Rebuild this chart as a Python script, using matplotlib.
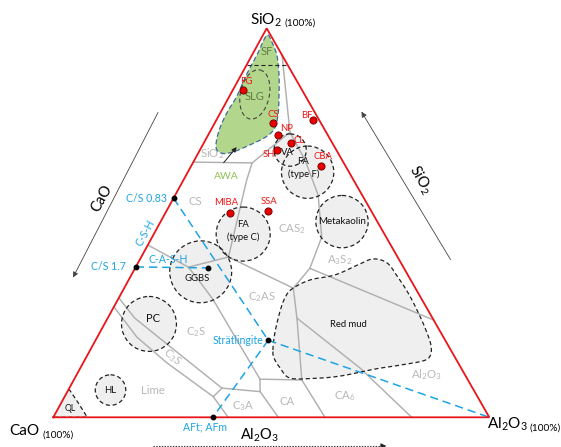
import numpy as np
import matplotlib
matplotlib.use("Agg")
import matplotlib.pyplot as plt
from matplotlib.patches import Polygon, Circle, Ellipse, FancyArrowPatch

plt.rcParams['font.family'] = ['Lato', 'DejaVu Sans']
plt.rcParams['mathtext.fontset'] = 'custom'
plt.rcParams['mathtext.rm'] = 'Lato'
plt.rcParams['mathtext.it'] = 'Lato:italic'
plt.rcParams['mathtext.bf'] = 'Lato:bold'
plt.rcParams['lines.scale_dashes'] = False

# ---------------------------------------------------------------------------
# Compositions in wt%, written as (SiO2, Al2O3); CaO is the balance.
# ---------------------------------------------------------------------------
phase_boundaries = [
    [(93.1, 6.9), (73.3, 18.4)],
    [(73.3, 18.4), (65.4, 13.6)],
    [(65.4, 13.6), (65.6, 0.0)],
    [(65.4, 13.6), (61.0, 14.5), (41.2, 20.0)],
    [(41.2, 20.0), (38.6, 12.1)],
    [(38.6, 12.1), (44.3, 0.0)],
    [(38.6, 12.1), (34.8, 16.6), (30.2, 21.9), (9.8, 42.6)],
    [(41.2, 20.0), (33.2, 38.8)],
    [(33.2, 38.8), (25.5, 43.4), (9.6, 52.3)],
    [(33.2, 38.8), (38.3, 40.1)],
    [(38.3, 40.1), (25.0, 75.0)],
    [(38.3, 40.1), (46.3, 38.9), (57.1, 32.8), (66.1, 25.4), (73.3, 18.4)],
    [(25.5, 43.4), (12.7, 64.1), (0.0, 82.2)],
    [(9.8, 42.6), (9.6, 52.3)],
    [(9.6, 52.3), (0.0, 62.3)],
    [(9.8, 42.6), (6.6, 44.2)],
    [(6.6, 44.2), (0.0, 51.6)],
    [(6.6, 44.2), (7.5, 35.0)],
    [(7.5, 35.0), (5.3, 34.1)],
    [(5.3, 34.1), (0.0, 40.1)],
    [(30.7, 0.0), (25.5, 6.2), (18.8, 16.9), (7.5, 35.0)],
    [(28.4, 0.0), (20.6, 9.1), (14.0, 19.2), (5.3, 34.1)],
]

field_names = ["SiO$_2$", "CS", "CAS$_2$", "A$_3$S$_2$", "C$_2$AS", "C$_2$S",
               "C$_3$S", "Lime", "C$_3$A", "CA", "CA$_6$", "Al$_2$O$_3$"]
field_label_comp = [(67.9, 3.1), (55.4, 5.4), (48.3, 31.0), (40.4, 46.0),
                    (31.0, 32.6), (22.0, 22.1), (15.5, 19.6), (6.8, 19.6),
                    (2.9, 42.2), (4.0, 51.6), (5.5, 64.2), (10.9, 80.2)]

material_names = ["VA", "FA\n(type F)", "Metakaolin", "FA\n(type C)", "GGBS", "PC", "HL"]
material_centres = [(68.7, 20.7), (63.0, 27.5), (50.3, 41.6), (47.1, 20.5),
                    (37.4, 15.5), (24.0, 10.2), (7.0, 9.7)]
material_radii = [3.7, 6.0, 6.0, 6.2, 7.1, 6.3, 3.5]
material_label_comp = [(68.2, 20.2), (64.1, 26.0), (50.3, 41.6), (47.9, 20.1),
                       (35.8, 15.4), (25.5, 10.3), (7.0, 9.7)]

sample_names = ["FG", "CS", "NP", "CL", "SH", "BF", "CBA", "MIBA", "SSA"]
sample_comp = [(84.1, 2.3), (75.7, 13.4), (72.6, 16.1), (70.5, 20.1), (68.7, 17.6),
               (76.4, 22.1), (64.7, 29.7), (52.6, 14.8), (53.0, 23.2)]

awa_outline = [(98.3, 1.1), (96.5, 2.9), (93.1, 5.7), (88.0, 8.7), (82.9, 11.2),
               (78.2, 13.3), (74.4, 14.4), (72.1, 13.5), (70.0, 10.8), (68.2, 7.8),
               (67.9, 5.4), (69.5, 3.3), (73.9, 1.9), (78.5, 1.5), (82.4, 1.7),
               (88.0, 1.2), (93.6, 1.1), (97.0, 0.8)]
red_mud_outline = [(17.3, 41.9), (21.7, 40.2), (27.1, 38.7), (30.7, 38.1), (33.0, 38.6),
                   (35.3, 41.6), (36.6, 46.7), (39.2, 50.7), (40.7, 53.4), (39.7, 57.1),
                   (36.3, 61.1), (32.0, 65.7), (27.6, 69.9), (23.0, 74.0), (18.6, 77.5),
                   (15.8, 78.7), (14.5, 77.7), (13.4, 72.9), (12.4, 67.7), (10.6, 60.6),
                   (10.0, 54.7), (10.1, 49.3), (12.7, 45.8), (15.2, 43.2)]
slg_centre = (83.0, 5.6)
sf_cut_sio2 = 90.6
ql_outline = [(7.3, 0.0), (3.9, 3.7), (0.0, 7.8)]

awa_label_comp = (62.0, 9.4)
awa_arrow_comp = [(64.9, 6.9), (70.0, 8.2)]
sf_label_comp = (94.0, 2.9)
slg_label_comp = (82.4, 5.9)
red_mud_label_comp = (23.8, 56.0)
ql_label_comp = (2.3, 2.7)

cs_ratios = [0.83, 1.7]          # molar Ca/Si of C-S-H
cash_comp = (38.4, 16.8)
stratlingite_comp = (19.8, 39.6)
aft_afm_comp = (0.0, 36.6)
casH_label_comp = (40.6, 6.5)

M_CAO, M_SIO2 = 56.08, 60.08

# ---------------------------------------------------------------------------
# Ternary frame (pixel layout of the three corners)
# ---------------------------------------------------------------------------
V_CAO = np.array([53.3, 417.3])
V_SIO2 = np.array([266.7, 28.3])
V_AL = np.array([489.3, 417.3])
PX_PER_PCT = (V_AL[0] - V_CAO[0]) / 100.0


def to_xy(s, a):
    s = np.asarray(s, dtype=float) / 100.0
    a = np.asarray(a, dtype=float) / 100.0
    c = 1.0 - s - a
    x = c * V_CAO[0] + s * V_SIO2[0] + a * V_AL[0]
    y = c * V_CAO[1] + s * V_SIO2[1] + a * V_AL[1]
    return x, y


def pts_xy(pts):
    arr = np.asarray(pts, dtype=float)
    x, y = to_xy(arr[:, 0], arr[:, 1])
    return np.column_stack([x, y])


def smooth_closed(xy, n=12):
    P = np.asarray(xy)
    m = len(P)
    out = []
    for i in range(m):
        p0, p1, p2, p3 = P[i - 1], P[i], P[(i + 1) % m], P[(i + 2) % m]
        for t in np.linspace(0, 1, n, endpoint=False):
            t2, t3 = t * t, t * t * t
            out.append(0.5 * (2 * p1 + (-p0 + p2) * t
                              + (2 * p0 - 5 * p1 + 4 * p2 - p3) * t2
                              + (-p0 + 3 * p1 - 3 * p2 + p3) * t3))
    return np.array(out)


W, H = 561, 447
fig = plt.figure(figsize=(W / 100, H / 100), dpi=100)
ax = fig.add_axes([0, 0, 1, 1])
ax.set_xlim(0, W)
ax.set_ylim(H, 0)
ax.axis('off')

RED = '#e8151b'
BLUE = '#1ea4e3'
GREY_LINE = '#b0b0b0'
GREY_TXT = '#b8b8b8'
FILL = '#efefef'
DASH = (0, (3.0, 2.0))

# --- AWA envelope -----------------------------------------------------------
awa = smooth_closed(pts_xy(awa_outline))
ax.add_patch(Polygon(awa, closed=True, facecolor='#b2d78c', edgecolor='none', zorder=1))
ax.add_patch(Polygon(awa, closed=True, facecolor='none', edgecolor='#3f6b9c',
                     lw=0.9, ls=(0, (3.5, 2.0)), zorder=6))

# --- red mud ---------------------------------------------------------------
rm = smooth_closed(pts_xy(red_mud_outline))
ax.add_patch(Polygon(rm, closed=True, facecolor=FILL, edgecolor='none', zorder=1))
ax.add_patch(Polygon(rm, closed=True, facecolor='none', edgecolor='#222222',
                     lw=0.9, ls=DASH, zorder=6))

# --- QL corner --------------------------------------------------------------
ql = pts_xy([(0.0, 0.0)] + ql_outline)
ax.add_patch(Polygon(ql, closed=True, facecolor=FILL, edgecolor='none', zorder=1))
qx = list(ql[1:, 0]) + [ql[0, 0]]
qy = list(ql[1:, 1]) + [ql[0, 1]]
ax.plot(qx, qy, color='#222222', lw=0.9, ls=DASH, zorder=7)

# --- material circles --------------------------------------------------------
for (s, a), r in zip(material_centres, material_radii):
    x, y = to_xy(s, a)
    ax.add_patch(Circle((x, y), r * PX_PER_PCT, facecolor=FILL, edgecolor='none', zorder=1))
    ax.add_patch(Circle((x, y), r * PX_PER_PCT, facecolor='none', edgecolor='#222222',
                        lw=0.9, ls=DASH, zorder=6))

# --- phase boundaries ------------------------------------------------------
for line in phase_boundaries:
    xy = pts_xy(line)
    ax.plot(xy[:, 0], xy[:, 1], color=GREY_LINE, lw=1.05, zorder=3,
            solid_joinstyle='round')

for name, (s, a) in zip(field_names, field_label_comp):
    x, y = to_xy(s, a)
    rot = -40 if name == "C$_3$S" else 0
    ax.text(x, y, name, color=GREY_TXT, fontsize=8.2, ha='center', va='center',
            rotation=rot, zorder=4)

# --- SLG ellipse and SF cut -------------------------------------------------
sx, sy = to_xy(*slg_centre)
ax.add_patch(Ellipse((sx, sy), 29, 50, angle=12, facecolor='none',
                     edgecolor='#444444', lw=0.8, ls=DASH, zorder=6))
cut = pts_xy([(sf_cut_sio2, 0.0), (sf_cut_sio2, 100 - sf_cut_sio2)])
ax.plot(cut[:, 0], cut[:, 1], color='#222222', lw=0.8, ls=DASH, zorder=6)
for lab, comp in [("SF", sf_label_comp), ("SLG", slg_label_comp)]:
    x, y = to_xy(*comp)
    ax.text(x, y, lab, color='#5f7d44', fontsize=8, ha='center', va='center', zorder=8)

# --- material labels (two-line names drawn line by line) ---------------------
for name, (s, a) in zip(material_names, material_label_comp):
    x, y = to_xy(s, a)
    fs = {"PC": 8, "Metakaolin": 7, "HL": 6.8}.get(name, 6.8)
    lines = name.split("\n")
    n = len(lines)
    for i, txt in enumerate(lines):
        ax.text(x, y + (i - (n - 1) / 2) * 13.0, txt, color='#111111', fontsize=fs,
                ha='center', va='center', zorder=8)

x, y = to_xy(*red_mud_label_comp)
ax.text(x, y, "Red mud", color='#111111', fontsize=6.8, ha='center', va='center', zorder=8)
x, y = to_xy(*ql_label_comp)
ax.text(x, y, "QL", color='#111111', fontsize=6.3, ha='center', va='center', zorder=8)

# --- AWA label and pointer ---------------------------------------------------
x, y = to_xy(*awa_label_comp)
ax.text(x, y, "AWA", color='#8cc152', fontsize=7.5, ha='center', va='center', zorder=8)
a0 = to_xy(*awa_arrow_comp[0])
a1 = to_xy(*awa_arrow_comp[1])
ax.add_patch(FancyArrowPatch(a0, a1, arrowstyle='-|>', mutation_scale=7,
                             color='#222222', lw=0.7, zorder=8))

# --- blue hydrate lines -----------------------------------------------------
cs_sio2 = [100 * M_SIO2 / (M_SIO2 + r * M_CAO) for r in cs_ratios]
p083 = to_xy(cs_sio2[0], 0.0)
p17 = to_xy(cs_sio2[1], 0.0)
pcash = to_xy(*cash_comp)
pstr = to_xy(*stratlingite_comp)
paft = to_xy(*aft_afm_comp)
pal = to_xy(0.0, 100.0)
blue_dash = (0, (6.0, 3.5))
for p, q in [(p17, pcash), (p083, pstr), (pstr, pal), (pstr, paft)]:
    ax.plot([p[0], q[0]], [p[1], q[1]], color=BLUE, lw=1.1, ls=blue_dash, zorder=9)
for p in [p083, p17, pcash, pstr, paft]:
    ax.plot(p[0], p[1], 'o', color='black', ms=3.2, zorder=11)

blue_kw = dict(color=BLUE, fontsize=7.6, zorder=12, textcoords='offset pixels')
ax.annotate("C/S %.2f" % cs_ratios[0], p083, xytext=(-7, 0), ha='right', va='center', **blue_kw)
ax.annotate("C/S %.1f" % cs_ratios[1], p17, xytext=(-10, 0), ha='right', va='center', **blue_kw)
mid = ((p083[0] + p17[0]) / 2, (p083[1] + p17[1]) / 2)
ax.annotate("C-S-H", mid, xytext=(-9, 0), ha='center', va='center', rotation=61, **blue_kw)
x, y = to_xy(*casH_label_comp)
ax.text(x, y, "C-A-S-H", color=BLUE, fontsize=7.6, ha='center', va='center', zorder=12)
ax.annotate("Strätlingite", pstr, xytext=(-5, 0), ha='right', va='center', **blue_kw)
ax.annotate("AFt; AFm", paft, xytext=(-8, -10), ha='center', va='center', **blue_kw)

# --- triangle frame --------------------------------------------------------
tri = np.array([V_CAO, V_AL, V_SIO2, V_CAO])
ax.plot(tri[:, 0], tri[:, 1], color=RED, lw=1.3, zorder=10, solid_joinstyle='miter')

# --- sample points ---------------------------------------------------------
tag_offsets = [(4, 8.3), (0, 8.7), (8, 6.4), (8, 2.3), (-7.7, -4), (-6, 5),
               (2, 9.5), (-4, 10.4), (1.3, 9.3)]
for name, (s, a), off in zip(sample_names, sample_comp, tag_offsets):
    x, y = to_xy(s, a)
    ax.plot(x, y, 'o', ms=5.2, mfc='#e60000', mec='#6b0000', mew=0.6, zorder=13)
    ax.annotate(name, (x, y), xytext=off, textcoords='offset pixels', color='#f01414',
                fontsize=6.8, ha='center', va='center', zorder=14)

# --- corner labels ---------------------------------------------------------
ax.annotate("SiO$_2$", tuple(V_SIO2), xytext=(15, 3.3), textcoords='offset pixels',
            ha='right', va='baseline', fontsize=11)
ax.annotate("(100%)", tuple(V_SIO2), xytext=(18, 2.6), textcoords='offset pixels',
            ha='left', va='baseline', fontsize=7.3)
ax.annotate("CaO", tuple(V_CAO), xytext=(-14, -17.7), textcoords='offset pixels',
            ha='right', va='baseline', fontsize=11)
ax.annotate("(100%)", tuple(V_CAO), xytext=(-10.6, -20), textcoords='offset pixels',
            ha='left', va='baseline', fontsize=7.3)
ax.annotate("Al$_2$O$_3$", tuple(V_AL), xytext=(38.7, -11), textcoords='offset pixels',
            ha='right', va='baseline', fontsize=11)
ax.annotate("(100%)", tuple(V_AL), xytext=(40.7, -13.7), textcoords='offset pixels',
            ha='left', va='baseline', fontsize=7.3)

# --- direction arrows along the sides ---------------------------------------
ax.add_patch(FancyArrowPatch((159.3, 110), (71.7, 280), arrowstyle='-|>',
                             mutation_scale=8, color='#444444', lw=0.6, zorder=5))
ax.text(101.7, 198.3, "CaO", fontsize=10.5, rotation=61, ha='center', va='center')
ax.add_patch(FancyArrowPatch((452, 262), (360, 109.3), arrowstyle='-|>',
                             mutation_scale=8, color='#444444', lw=0.6, zorder=5))
ax.text(420, 180, "SiO$_2$", fontsize=10.5, rotation=-60, ha='center', va='center')
ax.plot([153.3, 384], [446, 446], color='#333333', lw=0.8, ls=(0, (1, 1)), zorder=5)
ax.add_patch(FancyArrowPatch((380, 446), (389, 446), arrowstyle='-|>',
                             mutation_scale=8, color='#222222', lw=0.6, zorder=5))
ax.text(260, 439.3, "Al$_2$O$_3$", fontsize=10.5, ha='center', va='baseline')

fig.savefig("out.png", dpi=100)
